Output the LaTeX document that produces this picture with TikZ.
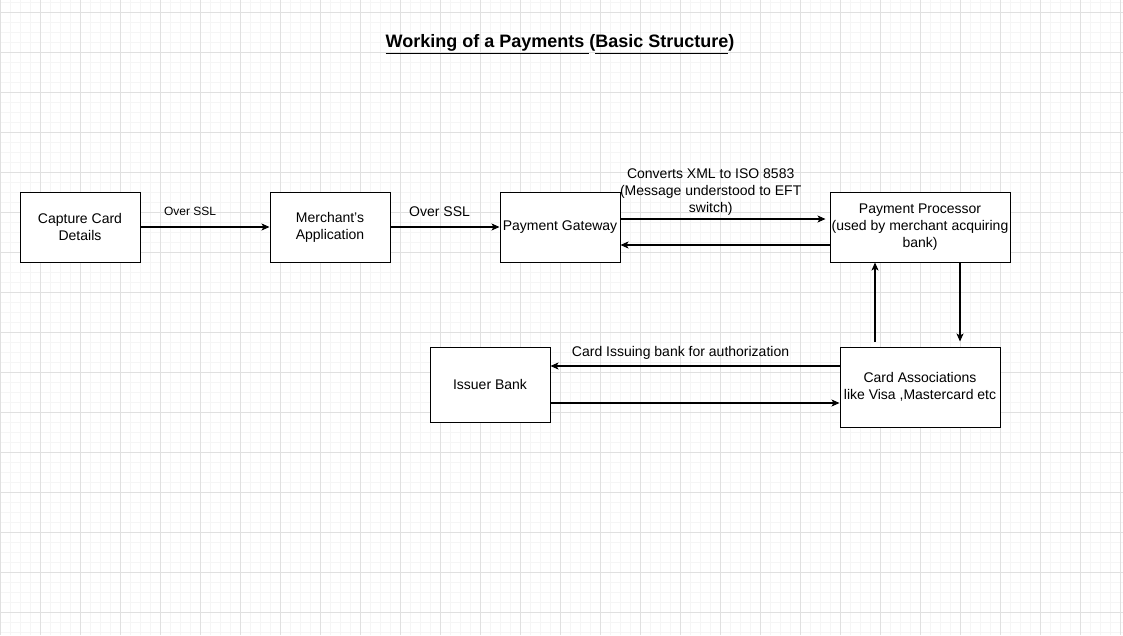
\documentclass[tikz,border=0pt]{standalone}
\usepackage{fontspec}
\setmainfont{Liberation Sans}
\usetikzlibrary{arrows.meta,positioning,calc}
\tikzset{
  blk/.style = { draw, fill=white, line width=0.75pt, align=center, inner sep=1pt,
    minimum width=#1, minimum height=52.5pt, font=\fontsize{10.5}{12.75}\selectfont },
  blk/.default = 90pt,
  lbl/.style = { align=center, inner sep=1pt, font=\fontsize{10.5}{12.75}\selectfont },
  flow/.style = { line width=0.8pt, -{Stealth[length=6pt,width=5.25pt,inset=1.5pt]} },
  gridminor/.style = { line width=0.6pt, black!4 },
  gridmajor/.style = { line width=0.6pt, black!12 }
}
\begin{document}
\begin{tikzpicture}[x=0.75pt,y=-0.75pt,node distance=1cm,on grid]
    % paper grid
    \useasboundingbox (0,0) rectangle (1123,635);
    \fill[white] (0,0) rectangle (1123,635);
    \foreach \x in {0,10,...,1120} \draw[gridminor] (\x,0) -- (\x,635);
    \foreach \y in {2,12,...,632} \draw[gridminor] (0,\y) -- (1123,\y);
    \foreach \x in {0,40,...,1120} \draw[gridmajor] (\x,0) -- (\x,635);
    \foreach \y in {12,52,...,612} \draw[gridmajor] (0,\y) -- (1123,\y);

    \node[font=\fontsize{13.5}{16}\selectfont\bfseries] (title) at (560,44)
      {\underline{Working of a Payments }(\underline{\vphantom{gy}Basic Structure})};

    % top row
    \node[blk] (cap) at (80,227) {Capture Card\\Details};
    \node[blk, right=187.5pt of cap] (merch) {Merchant's\\Application};
    \node[blk, right=172.5pt of merch] (gate) {Payment Gateway};
    \node[blk=135pt, right=270pt of gate] (proc) {Payment Processor\\(used by merchant acquiring\\bank)};
    % bottom row
    \node[blk=120pt, minimum height=60pt, below=120pt of proc] (assoc) {Card Associations\\like Visa ,Mastercard etc};
    \node[blk, minimum height=56.25pt] (iss) at (490,384.5) {Issuer Bank};

    \draw[flow] (cap) -- node[lbl, pos=0.385, yshift=12pt, font=\fontsize{9}{11}\selectfont] {Over SSL} (merch);
    \draw[flow] (merch) -- node[lbl, pos=0.45, yshift=11.25pt] {Over SSL} (gate);
    \draw[flow] ([yshift=6pt]gate.east) -- node[lbl, pos=0.44, yshift=20.25pt]
      {Converts XML to ISO 8583\\(Message understood to EFT\\switch)} ([yshift=6pt,xshift=-3pt]proc.west);
    \draw[flow] ([yshift=-13.5pt]proc.west) -- ([yshift=-13.5pt]gate.east);
    \draw[flow] ([xshift=30pt]proc.south) -- ([xshift=30pt,yshift=3.75pt]assoc.north);
    \draw[flow] ([xshift=-33.75pt,yshift=3.75pt]assoc.north) -- ([xshift=-33.75pt]proc.south);
    \coordinate (q1) at ([yshift=15.75pt]assoc.west);
    \coordinate (q2) at ([yshift=-12pt]assoc.west);
    \draw[flow] (q1) -- node[lbl, pos=0.55, yshift=9.75pt] {Card Issuing bank for authorization} (q1 -| iss.east);
    \draw[flow] (q2 -| iss.east) -- (q2);
\end{tikzpicture}
\end{document}
